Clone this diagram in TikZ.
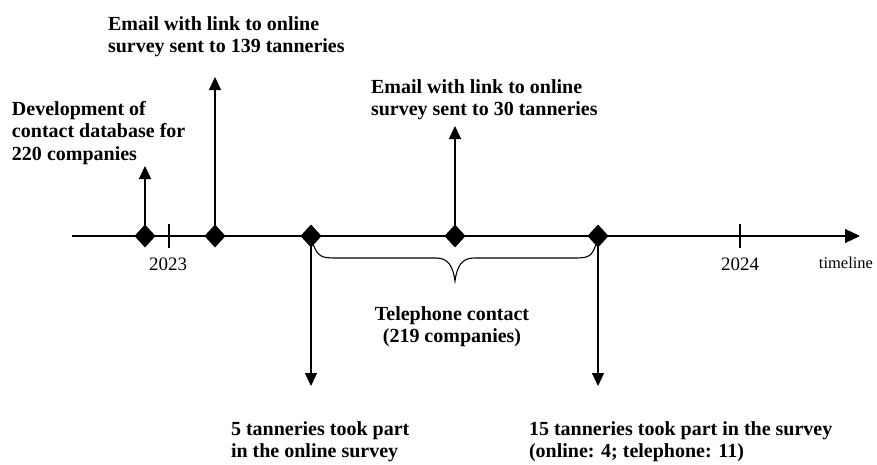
\documentclass[tikz,border=0pt]{standalone}
\usepackage{fontspec}
\setmainfont{Liberation Serif}
\usetikzlibrary{arrows.meta,shapes.geometric}
\begin{document}
\begin{tikzpicture}[x=1pt,y=-1pt,
  every node/.style={inner sep=0pt,outer sep=0pt},
  dia/.style={diamond,fill=black,minimum width=21pt,minimum height=23pt},
  lbl/.style={font=\fontsize{20}{22.3}\selectfont\bfseries,align=left,anchor=north west},
  yr/.style={font=\fontsize{19}{20}\selectfont,anchor=base},
  conn/.style={line width=1.1pt,-{Triangle[width=12pt,length=13pt]}},
  axis/.style={line width=1.1pt,-{Triangle[width=14pt,length=15pt]}},
  tick/.style={line width=1.1pt}]
\useasboundingbox (0,0) rectangle (877,464);
% timeline
\coordinate (tl0) at (72,236);
\coordinate (tl1) at (860,236);
\draw[axis] (tl0) -- (tl1);
% ticks
\coordinate (t23a) at (169,224); \coordinate (t23b) at (169,248);
\coordinate (t24a) at (740,224); \coordinate (t24b) at (740,248);
\draw[tick] (t23a) -- (t23b);
\draw[tick] (t24a) -- (t24b);
\node[yr] (y23) at (168,270) {2023};
\node[yr] (y24) at (740,270) {2024};
\node[font=\fontsize{16.5}{18}\selectfont,anchor=base] (tlab) at (846,268) {timeline};
% diamonds
\node[dia] (d1) at (145,236) {};
\node[dia] (d2) at (215,236) {};
\node[dia] (d3) at (311,236) {};
\node[dia] (d4) at (455,236) {};
\node[dia] (d5) at (598,236) {};
% up arrows
\coordinate (u1) at (145,166);
\coordinate (u2) at (215,77);
\coordinate (u4) at (455,126);
\draw[conn] (d1.center) -- (u1);
\draw[conn] (d2.center) -- (u2);
\draw[conn] (d4.center) -- (u4);
% down arrows
\coordinate (w3) at (311,386);
\coordinate (w5) at (598,386);
\draw[conn] (d3.center) -- (w3);
\draw[conn] (d5.center) -- (w5);
% brace
\coordinate (bl) at (313,244);
\coordinate (br) at (596,244);
\coordinate (bt) at (455,281);
\draw[line width=1.1pt] (bl) .. controls (318,257) and (322,258) .. (336,258)
  -- (436,258) .. controls (448,258) and (453,266) .. (bt)
  .. controls (457,266) and (462,258) .. (474,258)
  -- (574,258) .. controls (588,258) and (592,257) .. (br);
% labels
\node[lbl] (l1) at (12,101.5) {Development of\\contact database for\\220 companies};
\node[lbl] (l2) at (108,16.5) {Email with link to online\\survey sent to 139 tanneries};
\node[lbl] (l4) at (371,79.5) {Email with link to online\\survey sent to 30 tanneries};
\node[lbl,align=center,anchor=north] (l3) at (452,306.5) {Telephone contact\\(219 companies)};
\node[lbl,font=\fontsize{20}{21.5}\selectfont\bfseries] (l6) at (231,422) {5 tanneries took part\\in the online survey};
\node[lbl,font=\fontsize{20}{21.5}\selectfont\bfseries] (l7) at (529,422) {15 tanneries took part in the survey\\(online: 4; telephone: 11)};
\end{tikzpicture}
\end{document}
